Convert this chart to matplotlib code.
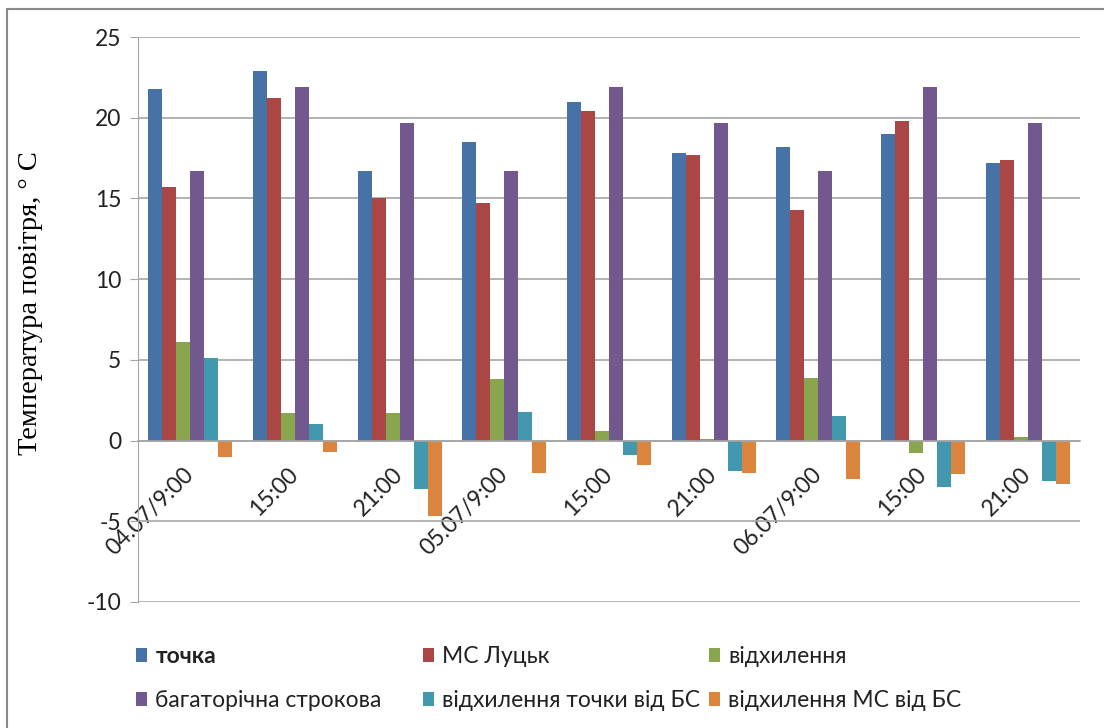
import numpy as np
import matplotlib
matplotlib.use("Agg")
import matplotlib.pyplot as plt
from matplotlib.patches import Rectangle

plt.rcParams["axes.unicode_minus"] = False

# categories (date / observation time)
labels = ["04.07/9:00", "15:00", "21:00", "05.07/9:00", "15:00", "21:00",
          "06.07/9:00", "15:00", "21:00"]

# series values, deg C
tochka = [21.8, 22.9, 16.7, 18.5, 21.0, 17.8, 18.2, 19.0, 17.2]
ms_lutsk = [15.7, 21.2, 15.0, 14.7, 20.4, 17.7, 14.3, 19.8, 17.4]
vidkh = [6.1, 1.7, 1.7, 3.8, 0.6, 0.1, 3.9, -0.8, 0.2]
bs = [16.7, 21.9, 19.7, 16.7, 21.9, 19.7, 16.7, 21.9, 19.7]
vidkh_t = [5.1, 1.0, -3.0, 1.8, -0.9, -1.9, 1.5, -2.9, -2.5]
vidkh_ms = [-1.0, -0.7, -4.7, -2.0, -1.5, -2.0, -2.4, -2.1, -2.7]

names = ["точка", "МС Луцьк", "відхилення", "багаторічна строкова",
         "відхилення точки від БС", "відхилення МС від БС"]
series = [tochka, ms_lutsk, vidkh, bs, vidkh_t, vidkh_ms]
colors = ["#4672A8", "#AA4643", "#89A54E", "#71588F", "#4198AF", "#DB843D"]

sans = ["Lato", "Noto Sans", "DejaVu Sans"]
grid_c = "#A6A6A6"

W, H = 1104, 728
fig = plt.figure(figsize=(W / 100, H / 100), dpi=100)
ax = fig.add_axes([138 / W, 1 - 602 / H, 942 / W, 565 / H])

x = np.arange(len(labels))
bw = 0.8 / len(series)
handles = []
for k, (vals, c) in enumerate(zip(series, colors)):
    b = ax.bar(x + (k - 2.5) * bw, vals, width=bw, color=c, linewidth=0)
    handles.append(b)

ax.set_xlim(-0.5, len(labels) - 0.5)
ax.set_ylim(-10, 25)
ax.set_yticks(range(-10, 26, 5))
ax.yaxis.grid(True, color=grid_c, linewidth=1.2)
ax.set_axisbelow(True)

for s in ["top", "right"]:
    ax.spines[s].set_visible(False)
ax.spines["left"].set_color(grid_c)
ax.spines["bottom"].set_color(grid_c)
ax.spines["bottom"].set_position(("data", 0))
ax.spines["bottom"].set_linewidth(1.2)

ax.tick_params(axis="y", length=6, color=grid_c, labelsize=16.5, pad=6)
ax.tick_params(axis="x", length=0, labelsize=16.5, pad=22)
ax.set_xticks(x)
ax.set_xticklabels(labels, rotation=45, ha="right", va="center",
                   rotation_mode="anchor")
for t in ax.get_xticklabels() + ax.get_yticklabels():
    t.set_family(sans)
    t.set_color("#222222")

ax.set_ylabel("Температура повітря, ° С", family="Liberation Serif",
              fontsize=20.5)
ax.yaxis.set_label_coords(-0.101, 0.529)

# legend: three equal-width columns like the spreadsheet layout
col_x = [136, 423, 709]
for c in range(3):
    hs = [handles[c], handles[c + 3]]
    ls = [names[c], names[c + 3]]
    leg = fig.legend(hs, ls, loc="upper left",
                     bbox_to_anchor=(col_x[c] / W, 1 - 646 / H),
                     frameon=False, borderpad=0, borderaxespad=0,
                     handlelength=0.5, handleheight=0.55, handletextpad=0.35,
                     labelspacing=1.0, prop={"family": sans, "size": 16.5})
    for t in leg.get_texts():
        t.set_color("#222222")
    if c == 0:
        leg.get_texts()[0].set_fontweight("bold")

# outer chart frame (clipped at right and bottom)
fig.patches.append(Rectangle((7 / W, -0.2), 1.2, 1.2 - 9 / H,
                             transform=fig.transFigure, fill=False,
                             edgecolor="#8A8A8A", linewidth=1.5))

fig.savefig("out.png", dpi=100)
